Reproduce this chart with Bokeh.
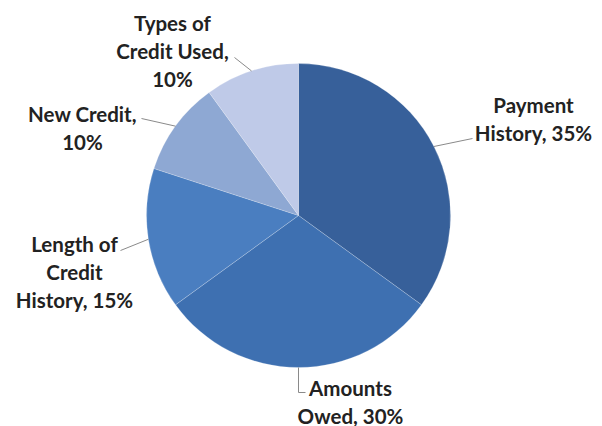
import math
from bokeh.plotting import figure
from bokeh.models import ColumnDataSource, Range1d
from bokeh.core.properties import value
from bokeh.embed import file_html
from bokeh.resources import INLINE

# ---- data ----
categories = ["Payment History", "Amounts Owed", "Length of Credit History",
              "New Credit", "Types of Credit Used"]
shares = [35, 30, 15, 10, 10]
label_lines = [["Payment", "History, 35%"], ["Amounts", "Owed, 30%"],
               ["Length of", "Credit", "History, 15%"], ["New Credit,", "10%"],
               ["Types of", "Credit Used,", "10%"]]
colors = ["#37609A", "#3E70B1", "#4A7EC0", "#8EA8D3", "#BFCAE8"]

# ---- layout (pixel coords, measured from top-left) ----
W, H = 602, 426
CX, CY, R = 298, 215, 152
LINE_H = 28
label_centers = [(533, 118), (350, 401), (74, 271), (82, 127), (172, 50)]
leader_ends = [[(472, 138)], [(298, 392), (305, 392)], [(120, 250)],
               [(141, 118)], [(234, 57)]]

p = figure(width=W, height=H, output_backend="svg", toolbar_location=None,
           x_range=Range1d(0, W), y_range=Range1d(0, H),
           min_border=0, background_fill_color="white",
           border_fill_color="white")
p.axis.visible = False
p.grid.visible = False
p.outline_line_color = None

total = sum(shares)
starts, ends, mids = [], [], []
cum = 0.0
for s in shares:
    a0 = cum / total * 2 * math.pi
    cum += s
    a1 = cum / total * 2 * math.pi
    starts.append(math.pi / 2 - a0)
    ends.append(math.pi / 2 - a1)
    mids.append((a0 + a1) / 2)

src = ColumnDataSource(dict(cat=categories, share=shares, start=starts,
                            end=ends, color=colors))
p.wedge(x=CX, y=H - CY, radius=R, start_angle="start", end_angle="end",
        direction="clock", fill_color="color", line_color="white",
        line_width=0.6, line_alpha=0.35, source=src)

# leader lines from slice mid-angle on the rim
for m, pts in zip(mids, leader_ends):
    rx = CX + R * math.sin(m)
    ry = CY - R * math.cos(m)
    xs = [rx] + [q[0] for q in pts]
    ys = [H - ry] + [H - q[1] for q in pts]
    p.line(xs, ys, line_color="#8a8a8a", line_width=1)

lx, ly, lt = [], [], []
for (cx, cy), lines in zip(label_centers, label_lines):
    n = len(lines)
    for i, t in enumerate(lines):
        lx.append(cx)
        ly.append(H - (cy + (i - (n - 1) / 2) * LINE_H))
        lt.append(t)
lsrc = ColumnDataSource(dict(x=lx, y=ly, t=lt))
p.text(x="x", y="y", text="t", source=lsrc, text_align="center",
       text_baseline="middle", text_font=value("Lato"),
       text_font_style="bold", text_font_size="20.5px",
       text_color="#222222")

open("out.html", "w").write(file_html(p, INLINE))
